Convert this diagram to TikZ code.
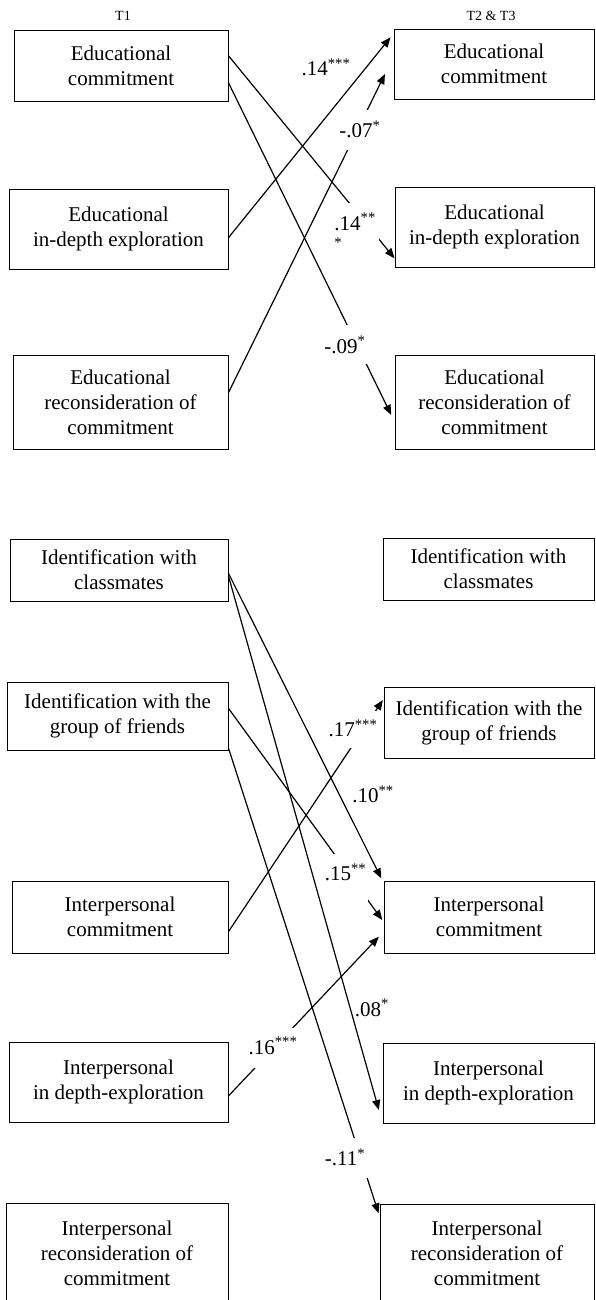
\documentclass[tikz,border=0pt]{standalone}
\usepackage{fontspec}
\setmainfont{Liberation Serif}
\usetikzlibrary{arrows.meta}

\begin{document}
\begin{tikzpicture}[x=1pt,y=-1pt,
        box/.style 2 args={draw,line width=0.9pt,inner sep=0pt,align=center,
            minimum width=#1,minimum height=#2,font=\fontsize{21}{25}\selectfont},
        link/.style={line width=1.2pt,-{Triangle[length=10pt,width=8pt]}},
        coef/.style={inner sep=0pt,anchor=base,font=\fontsize{21}{25}\selectfont},
        gap/.style={coef,fill=white},
        timelabel/.style={anchor=base,inner sep=0pt,font=\fontsize{14}{16}\selectfont}]

            %\draw [help lines] (0,0) grid[step=50] (595,1300);
            \clip (0,0) rectangle (595,1300);

            \path   (123,20.5) node (t1)  [timelabel] {T1}
                    (491,20.5) node (t23) [timelabel] {T2 \& T3};

            % T1
            \path   (121,65.5)   node (lec) [box={214pt}{71pt}] {Educational\\commitment}
                    (118.5,229)  node (led) [box={219pt}{80pt}] {Educational\\in-depth exploration}
                    (120.5,402)  node (ler) [box={215pt}{94pt}] {Educational\\reconsideration of\\commitment}
                    (119,570)    node (lcl) [box={218pt}{62pt}] {Identification with\\classmates}
                    (117.5,716)  node (lfr) [box={221pt}{68pt}] {Identification with the\\group of friends}
                    (120,917)    node (lpc) [box={216pt}{72pt}] {Interpersonal\\commitment}
                    (118.5,1082) node (lpd) [box={219pt}{80pt}] {Interpersonal\\in depth-exploration}
                    (117,1253)   node (lpr) [box={222pt}{100pt}] {Interpersonal\\reconsideration of\\commitment};

            % T2 & T3
            \path   (494,64)      node (rec) [box={200pt}{70pt}] {Educational\\commitment}
                    (494.5,227)   node (red) [box={199pt}{80pt}] {Educational\\in-depth exploration}
                    (494.5,402)   node (rer) [box={199pt}{94pt}] {Educational\\reconsideration of\\commitment}
                    (488.5,569)   node (rcl) [box={211pt}{62pt}] {Identification with\\classmates}
                    (489,722.5)   node (rfr) [box={210pt}{71pt}] {Identification with the\\group of friends}
                    (489,917)     node (rpc) [box={210pt}{72pt}] {Interpersonal\\commitment}
                    (488.5,1083)  node (rpd) [box={211pt}{80pt}] {Interpersonal\\in depth-exploration}
                    (487,1253.5)  node (rpr) [box={214pt}{99pt}] {Interpersonal\\reconsideration of\\commitment};

            \draw[link] ([yshift=9.8pt]lec.east) -- ([yshift=-31.3pt]red.west);
            \draw[link] ([yshift=-17.2pt]lec.east) -- ([xshift=-3.3pt,yshift=-13pt]rer.west);
            \draw[link] ([yshift=-8.7pt]led.east) -- ([xshift=-3pt,yshift=26.7pt]rec.west);
            \draw[link] ([yshift=9.3pt]ler.east) -- ([xshift=-8.6pt,yshift=-10pt]rec.west);

            \draw[link] ([yshift=-14.7pt]lpc.east) -- ([xshift=-0.7pt,yshift=22.5pt]rfr.west);
            \draw[link] ([yshift=-3.3pt]lcl.east) -- ([xshift=-2.3pt,yshift=38.7pt]rpc.west);
            \draw[link] ([yshift=7.7pt]lfr.east) -- ([xshift=-1.3pt,yshift=-3pt]rpc.west);
            \draw[link] ([yshift=-6pt]lcl.east) -- ([xshift=-3.7pt,yshift=-27pt]rpd.west);
            \draw[link] ([yshift=-32pt]lfr.east) -- ([xshift=-1pt,yshift=40.2pt]rpr.west);
            \draw[link] ([yshift=-14pt]lpd.east) -- ([xshift=-4.7pt,yshift=-19.7pt]rpc.west);

            % coefficients
            \node (c14a) [gap,align=left,minimum width=48pt,text height=52pt,text depth=0pt,anchor=north west]
                at (331,203) {.14\textsuperscript{**}\\\textsuperscript{*}};
            \node (c14b) [coef] at (326,76) {.14\textsuperscript{***}};
            \node (c07) [gap,minimum width=44pt,text height=28pt,text depth=12pt] at (360,138) {-.07\textsuperscript{*}};
            \node (c09) [gap,minimum width=46pt,text height=28pt,text depth=11pt] at (345,353) {-.09\textsuperscript{*}};
            \node (c17) [gap,minimum width=54pt,text height=26pt,text depth=11pt] at (353,736.7) {.17\textsuperscript{***}};
            \node (c10) [coef] at (373,802.7) {.10\textsuperscript{**}};
            \node (c15) [gap,minimum width=45pt,text height=27pt,text depth=21pt] at (345.5,880.7) {.15\textsuperscript{**}};
            \node (c08) [coef] at (372,1016) {.08\textsuperscript{*}};
            \node (c16) [gap,minimum width=54pt,text height=26pt,text depth=14pt] at (273,1054) {.16\textsuperscript{***}};
            \node (c11) [gap,minimum width=46pt,text height=28pt,text depth=12pt] at (345,1165.7) {-.11\textsuperscript{*}};

        \end{tikzpicture}
\end{document}
